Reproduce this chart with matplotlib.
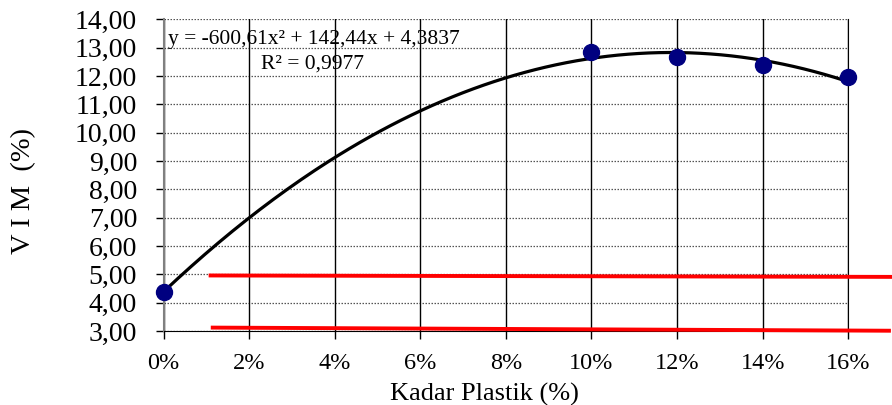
import matplotlib
matplotlib.use("Agg")
import matplotlib.pyplot as plt
import numpy as np
from matplotlib.ticker import FuncFormatter

plt.rcParams['font.family'] = ['Liberation Serif', 'DejaVu Serif']

# Data
kadar = [0.00, 0.10, 0.12, 0.14, 0.16]
vim = [4.38, 12.84, 12.66, 12.40, 11.95]
trend_coef = [-600.61, 142.44, 4.3837]
eq_text = "y = -600,61x² + 142,44x + 4,3837"
r2_text = "R² = 0,9977"
limit_upper_x = [0.011, 0.170]
limit_upper_y = [4.96, 4.91]
limit_lower_x = [0.0115, 0.1695]
limit_lower_y = [3.12, 3.01]
yticks = np.arange(3, 14.01, 1)
xticks = [0.00, 0.02, 0.04, 0.06, 0.08, 0.10, 0.12, 0.14, 0.16]

fig = plt.figure(figsize=(8.92, 4.05), dpi=100)
ax = fig.add_axes([0.1833, 0.1827, 0.951 - 0.1833, 0.9523 - 0.1827])
ax.set_xlim(0, 0.16)
ax.set_ylim(3, 14)

# grid
for yv in yticks:
    ax.axhline(yv, color='#555555', lw=0.9, ls=(0, (1.2, 1.2)), zorder=1)
for xv in xticks:
    ax.axvline(xv, color='black', lw=1.0, zorder=1)

xs = np.linspace(0, 0.16, 200)
ax.plot(xs, np.polyval(trend_coef, xs), color='black', lw=2.3, zorder=3)
ax.plot(kadar, vim, 'o', color='#000080', ms=11.5, zorder=4, clip_on=False)

ax.plot(limit_upper_x, limit_upper_y, color='#ff0000', lw=2.8, clip_on=False, zorder=5)
ax.plot(limit_lower_x, limit_lower_y, color='#ff0000', lw=2.8, clip_on=False, zorder=5)

ax.text(0.001, 13.28, eq_text, fontsize=15.5, va='center', ha='left')
ax.text(0.0348, 12.43, r2_text, fontsize=15.5, va='center', ha='center')

ax.set_xticks(xticks)
ax.set_yticks(yticks)
ax.xaxis.set_major_formatter(FuncFormatter(lambda v, p: f"{v*100:.0f}%"))
ax.yaxis.set_major_formatter(FuncFormatter(lambda v, p: f"{v:.2f}".replace('.', ',')))
ax.tick_params(axis='both', length=6, width=1, direction='out', color='black')
ax.tick_params(axis='y', labelsize=20, pad=13)
ax.tick_params(axis='x', labelsize=17.5, pad=10)

ax.spines['top'].set_visible(False)
ax.spines['left'].set_color('#808080')
ax.spines['left'].set_linewidth(1.5)
ax.spines['right'].set_color('black')
ax.spines['bottom'].set_color('black')

ax.set_xlabel("Kadar Plastik (%)", fontsize=19)
ax.set_ylabel("V I M  (%)", fontsize=20.5)
ax.xaxis.set_label_coords(0.469, -0.165)
ax.yaxis.set_label_coords(-0.186, 0.449)

fig.savefig("out.png", dpi=100)
